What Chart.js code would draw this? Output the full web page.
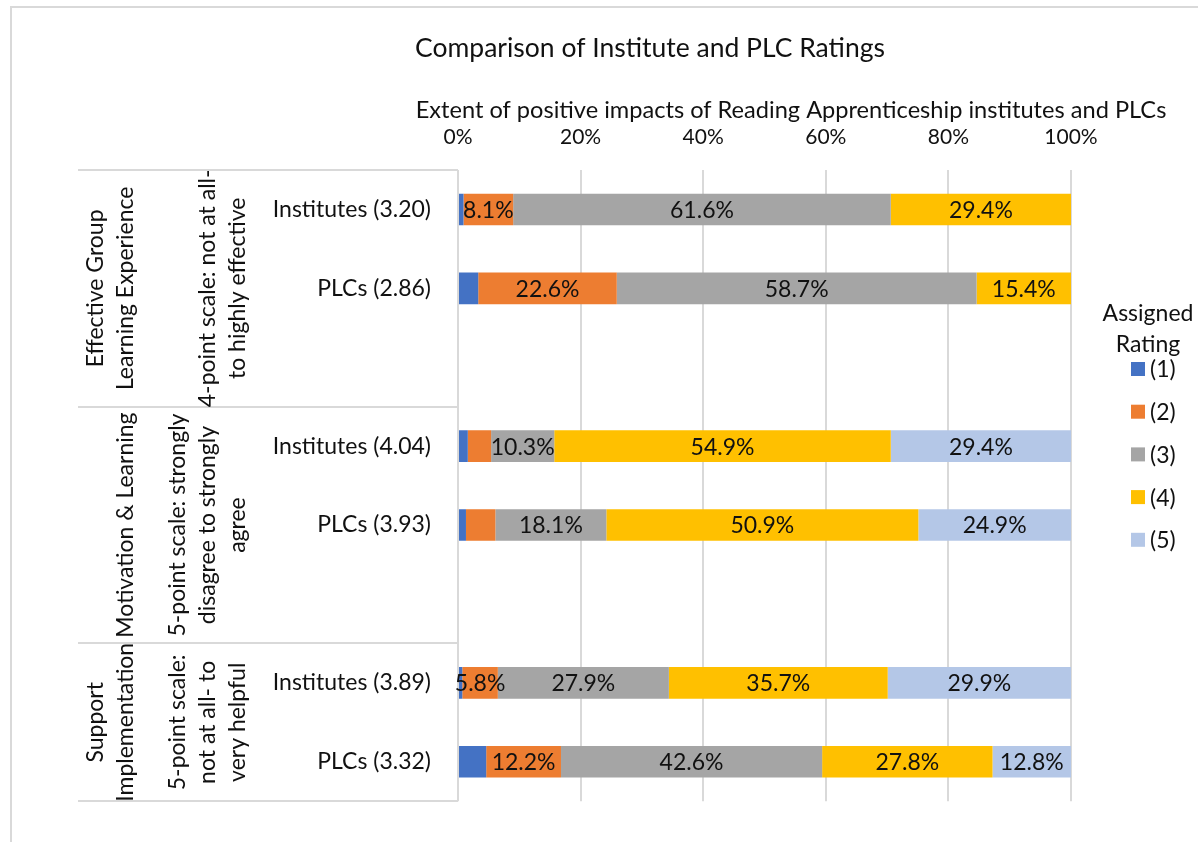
<!DOCTYPE html>
<html>
<head>
<meta charset="utf-8">
<title>Comparison of Institute and PLC Ratings</title>
<script src="https://cdn.jsdelivr.net/npm/chart.js"></script>
<style>
  html, body { margin: 0; padding: 0; background: #fff; }
  #wrap { width: 1198px; height: 842px; }
</style>
</head>
<body>
<div id="wrap"><canvas id="ratingsChart" width="1198" height="842"></canvas></div>
<script>
// bar rows, top to bottom ('' = empty spacer row)
const barLabels = ['Institutes (3.20)', 'PLCs (2.86)', '', 'Institutes (4.04)', 'PLCs (3.93)', '', 'Institutes (3.89)', 'PLCs (3.32)'];

// outer label levels
const groupNames = [['Effective Group', 'Learning Experience'], ['Motivation & Learning'], ['Support', 'Implementation']];
const scaleNotes = [['4-point scale: not at all-', 'to highly effective'], ['5-point scale: strongly', 'disagree to strongly', 'agree'], ['5-point scale:', 'not at all- to', 'very helpful']];
const groupSpans = [[0, 2], [3, 5], [6, 7]];

// percentages per assigned rating
const ratingNames = ['(1)', '(2)', '(3)', '(4)', '(5)'];
const rating1 = [0.9, 3.3, null, 1.6, 1.3, null, 0.7, 4.6];
const rating2 = [8.1, 22.6, null, 3.8, 4.8, null, 5.8, 12.2];
const rating3 = [61.6, 58.7, null, 10.3, 18.1, null, 27.9, 42.6];
const rating4 = [29.4, 15.4, null, 54.9, 50.9, null, 35.7, 27.8];
const rating5 = [0, 0, null, 29.4, 24.9, null, 29.9, 12.8];
const ratingColors = ['#4472C4', '#ED7D31', '#A5A5A5', '#FFC000', '#B4C7E7'];

const titleText = 'Comparison of Institute and PLC Ratings';
const axisTitle = 'Extent of positive impacts of Reading Apprenticeship institutes and PLCs';
const legendTitle = ['Assigned', 'Rating'];

const FONT = 'Lato';
const TXT = '#111';
const FS = 23;
Chart.defaults.font.family = FONT;
Chart.defaults.color = TXT;

const series = [rating1, rating2, rating3, rating4, rating5];

// frame, titles, group labels, legend
const decorations = {
  id: 'decorations',
  beforeDraw(chart) {
    const ctx = chart.ctx;
    ctx.save();
    ctx.strokeStyle = '#d9d9d9';
    ctx.lineWidth = 2;
    ctx.beginPath();
    ctx.moveTo(11, 842);
    ctx.lineTo(11, 7);
    ctx.lineTo(1198, 7);
    ctx.stroke();
    ctx.restore();
  },
  afterDraw(chart) {
    const ctx = chart.ctx;
    const y = chart.scales.y;
    const area = chart.chartArea;
    ctx.save();
    ctx.fillStyle = TXT;
    ctx.textAlign = 'center';
    ctx.textBaseline = 'middle';

    ctx.font = '26.5px ' + FONT;
    ctx.fillText(titleText, 650, 48);
    ctx.font = '23.6px ' + FONT;
    ctx.fillText(axisTitle, 791, 110);
    ctx.font = FS + 'px ' + FONT;

    // separators between groups in the label area
    ctx.strokeStyle = '#d9d9d9';
    ctx.lineWidth = 2;
    const edges = [y.getPixelForValue(-0.5)];
    groupSpans.forEach(s => edges.push(y.getPixelForValue(s[1] + 0.5)));
    edges.forEach(e => {
      ctx.beginPath();
      ctx.moveTo(78, Math.round(e));
      ctx.lineTo(area.left, Math.round(e));
      ctx.stroke();
    });

    // rotated outer labels
    const drawColumn = (lines, rightX, cy) => {
      lines.forEach((line, i) => {
        const x = rightX - 30 * (lines.length - 1 - i);
        ctx.save();
        ctx.translate(x, cy);
        ctx.rotate(-Math.PI / 2);
        ctx.fillText(line, 0, 0);
        ctx.restore();
      });
    };
    groupSpans.forEach((s, g) => {
      const cy = (y.getPixelForValue(s[0] - 0.5) + y.getPixelForValue(s[1] + 0.5)) / 2;
      drawColumn(groupNames[g], 126, cy);
      drawColumn(scaleNotes[g], 238, cy);
    });

    // legend
    ctx.fillText(legendTitle[0], 1148, 314);
    ctx.fillText(legendTitle[1], 1148, 345);
    ctx.textAlign = 'left';
    chart.data.datasets.forEach((ds, i) => {
      const ly = 369 + i * 42.7;
      ctx.fillStyle = ds.backgroundColor;
      ctx.fillRect(1131, ly - 7, 14, 14);
      ctx.fillStyle = TXT;
      ctx.fillText(ds.label, 1150, ly + 1);
    });
    ctx.restore();
  }
};

// value labels inside segments
const segmentLabels = {
  id: 'segmentLabels',
  afterDatasetsDraw(chart) {
    const ctx = chart.ctx;
    ctx.save();
    ctx.font = FS + 'px ' + FONT;
    ctx.fillStyle = TXT;
    ctx.textAlign = 'center';
    ctx.textBaseline = 'middle';
    chart.data.datasets.forEach((ds, i) => {
      const meta = chart.getDatasetMeta(i);
      meta.data.forEach((bar, j) => {
        const v = ds.data[j];
        if (v == null || v < 5) return;
        const p = bar.getCenterPoint();
        ctx.fillText(v.toFixed(1) + '%', p.x, p.y + 1);
      });
    });
    ctx.restore();
  }
};

new Chart(document.getElementById('ratingsChart'), {
  type: 'bar',
  data: {
    labels: barLabels,
    datasets: series.map((d, i) => ({
      label: ratingNames[i],
      data: d,
      backgroundColor: ratingColors[i],
      borderWidth: 0,
      barPercentage: 0.5,
      categoryPercentage: 0.8
    }))
  },
  options: {
    indexAxis: 'y',
    responsive: false,
    animation: false,
    layout: { padding: { left: 0, right: 127, top: 0, bottom: 32 } },
    plugins: {
      legend: { display: false },
      title: { display: false },
      tooltip: { enabled: false }
    },
    scales: {
      x: {
        position: 'top',
        stacked: true,
        min: 0,
        max: 100,
        ticks: { stepSize: 20, padding: 20, font: { size: 21 }, color: TXT, callback: v => v + '%' },
        grid: { color: '#d9d9d9', lineWidth: 2, drawTicks: false },
        border: { display: false },
        afterFit: s => { s.height = 170; }
      },
      y: {
        stacked: true,
        ticks: { autoSkip: false, padding: 27, font: { size: FS }, color: TXT },
        grid: { display: false, drawTicks: false },
        border: { display: false },
        afterFit: s => { s.width = 458; }
      }
    }
  },
  plugins: [decorations, segmentLabels]
});
</script>
</body>
</html>
